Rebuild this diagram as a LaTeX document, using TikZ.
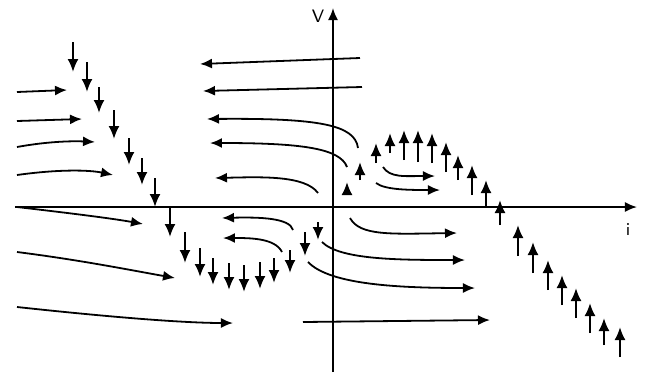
\documentclass[tikz,border=0pt]{standalone}
\usetikzlibrary{arrows.meta}
\tikzset{flow/.style={line width=0.9pt,-{Latex[length=6pt,width=5pt]}},
  kick/.style={line width=1pt,-{Latex[length=6.5pt,width=5.5pt]}},
  axlabel/.style={font=\sffamily\small}}

\begin{document}
\begin{tikzpicture}[x=0.5pt,y=-0.5pt]
\useasboundingbox (0,0) rectangle (645,377);
% axes
\draw[flow] (15,207) -- (637,207);
\draw[flow] (333,372) -- (333,8);
\node (vlab) at (318,16) [axlabel] {V};
\node (ilab) at (628,230) [axlabel] {i};
% flow to the right, left part
\draw[flow] (17,92) -- (67,90);
\draw[flow] (17,121) -- (82,119);
\draw[flow] (17,147) .. controls (50,141) and (75,141) .. (95,142);
\draw[flow] (17,175) .. controls (60,169) and (90,170) .. (113,175);
\draw[flow] (17,207) .. controls (60,212) and (110,218) .. (143,224);
\draw[flow] (17,252) .. controls (80,260) and (130,270) .. (175,278);
\draw[flow] (17,307) .. controls (100,316) and (180,323) .. (233,323);
% flow to the left, middle part
\draw[flow] (360,58) -- (200,64);
\draw[flow] (362,87) -- (203,91);
\draw[flow] (358,148) .. controls (355,125) and (320,118) .. (207,119);
\draw[flow] (347,167) .. controls (340,148) and (300,143) .. (210,143);
\draw[flow] (318,193) .. controls (305,175) and (260,177) .. (215,178);
\draw[flow] (293,230) .. controls (290,218) and (260,217) .. (222,218);
\draw[flow] (282,252) .. controls (275,238) and (250,238) .. (223,238);
% flow to the right, right part
\draw[flow] (383,167) .. controls (390,178) and (405,176) .. (435,176);
\draw[flow] (376,183) .. controls (385,190) and (410,190) .. (440,190);
\draw[flow] (350,218) .. controls (360,236) and (390,234) .. (457,233);
\draw[flow] (322,242) .. controls (340,260) and (400,260) .. (465,260);
\draw[flow] (308,262) .. controls (330,285) and (400,288) .. (475,288);
\draw[flow] (303,322) -- (490,320);
% jumps down onto the characteristic
\draw[kick] (73,42) -- (73,72);
\draw[kick] (87,62) -- (87,92);
\draw[kick] (99,87) -- (99,113);
\draw[kick] (114,110) -- (114,139);
\draw[kick] (129,138) -- (129,165);
\draw[kick] (142,158) -- (142,185);
\draw[kick] (155,178) -- (155,207);
\draw[kick] (170,207) -- (170,237);
\draw[kick] (185,232) -- (185,263);
\draw[kick] (200,248) -- (200,277);
\draw[kick] (213,258) -- (213,285);
\draw[kick] (229,263) -- (229,290);
\draw[kick] (244,265) -- (244,292);
\draw[kick] (260,262) -- (260,289);
\draw[kick] (274,258) -- (274,283);
\draw[kick] (290,250) -- (290,273);
\draw[kick] (305,232) -- (305,256);
\draw[kick] (318,222) -- (318,240);
% jumps up onto the characteristic
\draw[kick] (347,193) -- (347,182);
\draw[kick] (360,180) -- (360,162);
\draw[kick] (376,163) -- (376,143);
\draw[kick] (390,153) -- (390,133);
\draw[kick] (404,160) -- (404,130);
\draw[kick] (418,162) -- (418,130);
\draw[kick] (432,163) -- (432,133);
\draw[kick] (446,172) -- (446,142);
\draw[kick] (458,180) -- (458,155);
\draw[kick] (472,195) -- (472,165);
\draw[kick] (486,207) -- (486,180);
\draw[kick] (500,225) -- (500,200);
\draw[kick] (518,256) -- (518,225);
\draw[kick] (533,273) -- (533,242);
\draw[kick] (548,290) -- (548,260);
\draw[kick] (562,305) -- (562,275);
\draw[kick] (576,318) -- (576,288);
\draw[kick] (590,333) -- (590,303);
\draw[kick] (604,345) -- (604,318);
\draw[kick] (620,357) -- (620,327);
\end{tikzpicture}
\end{document}
